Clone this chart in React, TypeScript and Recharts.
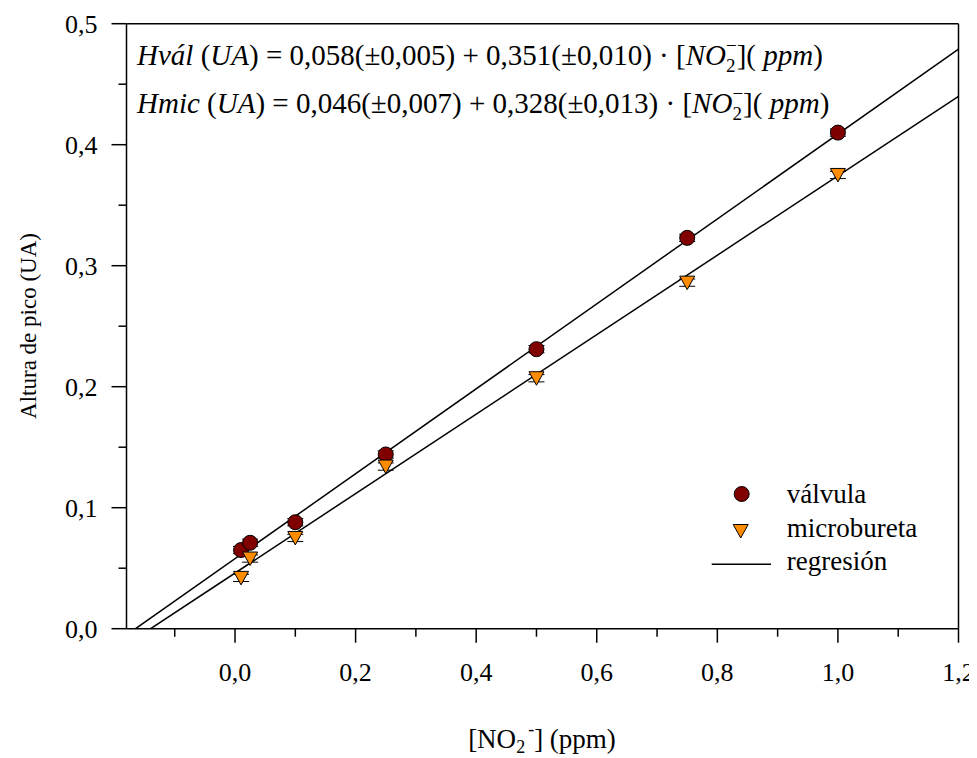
import React from 'react';
import {
  ComposedChart,
  Scatter,
  XAxis,
  YAxis,
  ReferenceLine,
  ErrorBar,
} from 'recharts';

// ---- data ----
const CONC = [0.01, 0.025, 0.1, 0.25, 0.5, 0.75, 1.0];
const VALVULA = [0.065, 0.071, 0.088, 0.144, 0.231, 0.323, 0.41];
const VALVULA_ERR = [0.003, 0.003, 0.003, 0.003, 0.003, 0.003, 0.003];
const MICRO = [0.042, 0.058, 0.075, 0.134, 0.207, 0.286, 0.375];
const MICRO_ERR = [0.003, 0.003, 0.003, 0.003, 0.003, 0.003, 0.003];

// regression line end points (x, y)
const REG_VALVULA_X = [-0.165, 1.2];
const REG_VALVULA_Y = [0, 0.479];
const REG_MICRO_X = [-0.14, 1.2];
const REG_MICRO_Y = [0, 0.44];

const X_TICKS = [-0.1, 0, 0.1, 0.2, 0.3, 0.4, 0.5, 0.6, 0.7, 0.8, 0.9, 1.0, 1.1, 1.2];
const Y_TICKS = [0, 0.05, 0.1, 0.15, 0.2, 0.25, 0.3, 0.35, 0.4, 0.45, 0.5];

const valvulaData = CONC.map((x, i) => ({ x, y: VALVULA[i], err: VALVULA_ERR[i] }));
const microData = CONC.map((x, i) => ({ x, y: MICRO[i], err: MICRO_ERR[i] }));
const regValvula = REG_VALVULA_X.map((x, i) => ({ x, y: REG_VALVULA_Y[i] }));
const regMicro = REG_MICRO_X.map((x, i) => ({ x, y: REG_MICRO_Y[i] }));

const FONT = '"Liberation Serif", "Times New Roman", serif';
const RED = '#800000';
const ORANGE = '#ff8c00';

const W = 969;
const H = 750;

const fmt = (v: number) => v.toFixed(1).replace('.', ',');

const XTick = (props: any) => {
  const { x, y, payload } = props;
  const v = payload.value as number;
  const major = Math.abs(Math.round(v * 10)) % 2 === 0;
  return (
    <g>
      <line x1={x} y1={y} x2={x} y2={y + (major ? 14 : 8)} stroke="#000" strokeWidth={1.5} />
      {major && (
        <text x={x} y={y + 52} textAnchor="middle" fontFamily={FONT} fontSize={26} fill="#000">
          {fmt(v)}
        </text>
      )}
    </g>
  );
};

const YTick = (props: any) => {
  const { x, y, payload } = props;
  const v = payload.value as number;
  const major = Math.abs(Math.round(v * 20)) % 2 === 0;
  return (
    <g>
      <line x1={x - (major ? 15 : 8)} y1={y} x2={x} y2={y} stroke="#000" strokeWidth={1.5} />
      {major && (
        <text x={x - 29} y={y + 9.5} textAnchor="end" fontFamily={FONT} fontSize={26} fill="#000">
          {fmt(v)}
        </text>
      )}
    </g>
  );
};

const Circle = (props: any) => {
  const { cx, cy } = props;
  if (cx == null || cy == null) return <g />;
  return <circle cx={cx} cy={cy} r={7.5} fill={RED} stroke="#000" strokeWidth={1} />;
};

const TriDown = (props: any) => {
  const { cx, cy } = props;
  if (cx == null || cy == null) return <g />;
  const pts = `${cx - 7.5},${cy - 6.5} ${cx + 7.5},${cy - 6.5} ${cx},${cy + 7}`;
  return <polygon points={pts} fill={ORANGE} stroke="#000" strokeWidth={1} />;
};

const NoShape = () => <g />;

const Equation = ({ y, name, a, ea, b, eb }: any) => (
  <text x={129} y={y} fontFamily={FONT} fontSize={29} fill="#000">
    <tspan fontStyle="italic">{name}</tspan>
    <tspan> (</tspan>
    <tspan fontStyle="italic">UA</tspan>
    <tspan>{`) = ${a}(±${ea}) + ${b}(±${eb}) · [`}</tspan>
    <tspan fontStyle="italic">NO</tspan>
    <tspan fontSize={19} dy={7}>2</tspan>
    <tspan fontSize={19} dx={-9.5} dy={-20}>−</tspan>
    <tspan dy={13}>](</tspan>
    <tspan fontStyle="italic"> ppm</tspan>
    <tspan>)</tspan>
  </text>
);

export default function App() {
  return (
    <div style={{ position: 'relative', width: W, height: H }}>
      <ComposedChart
        width={W}
        height={H}
        margin={{ top: 15.7, right: 18.5, bottom: 99.3, left: 88.5 }}
      >
        <XAxis
          type="number"
          dataKey="x"
          domain={[-0.18, 1.2]}
          ticks={X_TICKS}
          interval={0}
          allowDataOverflow
          height={30}
          tickSize={0}
          tickMargin={0}
          tickLine={false}
          axisLine={{ stroke: '#000', strokeWidth: 1.5 }}
          tick={<XTick />}
        />
        <YAxis
          type="number"
          dataKey="y"
          domain={[0, 0.5]}
          ticks={Y_TICKS}
          interval={0}
          allowDataOverflow
          width={30}
          tickSize={0}
          tickMargin={0}
          tickLine={false}
          axisLine={{ stroke: '#000', strokeWidth: 1.5 }}
          tick={<YTick />}
        />
        <ReferenceLine y={0.5} stroke="#000" strokeWidth={1.5} />
        <ReferenceLine x={1.2} stroke="#000" strokeWidth={1.5} />
        <Scatter
          data={regValvula}
          line={{ stroke: '#000', strokeWidth: 1.5 }}
          lineType="joint"
          shape={<NoShape />}
          isAnimationActive={false}
        />
        <Scatter
          data={regMicro}
          line={{ stroke: '#000', strokeWidth: 1.5 }}
          lineType="joint"
          shape={<NoShape />}
          isAnimationActive={false}
        />
        <Scatter data={valvulaData} shape={<Circle />} isAnimationActive={false}>
          <ErrorBar dataKey="err" direction="y" width={8} stroke="#000" strokeWidth={1} isAnimationActive={false} />
        </Scatter>
        <Scatter data={microData} shape={<TriDown />} isAnimationActive={false}>
          <ErrorBar dataKey="err" direction="y" width={8} stroke="#000" strokeWidth={1} isAnimationActive={false} />
        </Scatter>
      </ComposedChart>
      <svg
        width={W}
        height={H}
        style={{ position: 'absolute', left: 0, top: 0, pointerEvents: 'none' }}
      >
        <Equation y={57} name="Hvál" a="0,058" ea="0,005" b="0,351" eb="0,010" />
        <Equation y={105} name="Hmic" a="0,046" ea="0,007" b="0,328" eb="0,013" />

        {/* legend */}
        <circle cx={733.7} cy={486} r={7.5} fill={RED} stroke="#000" strokeWidth={1} />
        <text x={778.7} y={495.3} fontFamily={FONT} fontSize={27} fill="#000">válvula</text>
        <polygon
          points={`${732.7 - 7.5},${523 - 6.5} ${732.7 + 7.5},${523 - 6.5} ${732.7},${523 + 7}`}
          fill={ORANGE}
          stroke="#000"
          strokeWidth={1}
        />
        <text x={778.7} y={528.7} fontFamily={FONT} fontSize={27} fill="#000">microbureta</text>
        <line x1={703.7} y1={556.3} x2={763} y2={556.3} stroke="#000" strokeWidth={1.5} />
        <text x={778.7} y={562} fontFamily={FONT} fontSize={27} fill="#000">regresión</text>

        {/* axis titles */}
        <text
          transform="translate(28, 318) rotate(-90)"
          textAnchor="middle"
          fontFamily={FONT}
          fontSize={23}
          fill="#000"
        >
          Altura de pico (UA)
        </text>
        <text x={534} y={740} textAnchor="middle" fontFamily={FONT} fontSize={27} fill="#000">
          <tspan>[NO</tspan>
          <tspan fontSize={18} dy={5}>2</tspan>
          <tspan fontSize={18} dx={3} dy={-18}>-</tspan>
          <tspan dy={13}>] (ppm)</tspan>
        </text>
      </svg>
    </div>
  );
}
